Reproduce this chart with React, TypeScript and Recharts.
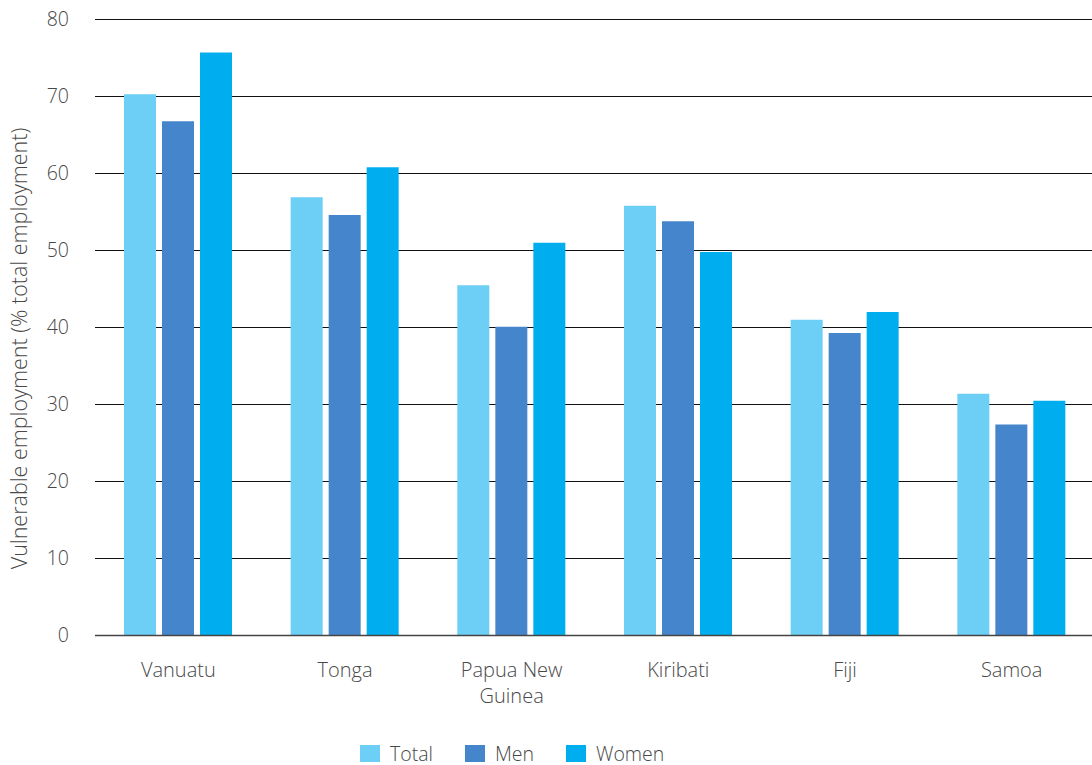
import { BarChart, Bar, XAxis, YAxis, CartesianGrid, Legend } from "recharts";

const countries = ["Vanuatu", "Tonga", "Papua New Guinea", "Kiribati", "Fiji", "Samoa"];
const total = [70.3, 56.9, 45.5, 55.8, 41.0, 31.4];
const men = [66.8, 54.6, 40.1, 53.8, 39.3, 27.4];
const women = [75.7, 60.8, 51.0, 49.8, 42.0, 30.5];
const yTicks = [0, 10, 20, 30, 40, 50, 60, 70, 80];

const series = [
    { key: "total", name: "Total", color: "#6dcff6" },
    { key: "men", name: "Men", color: "#4585cb" },
    { key: "women", name: "Women", color: "#00aeef" },
];

const data = countries.map((c, i) => ({
    country: c,
    total: total[i],
    men: men[i],
    women: women[i],
}));

const FONT = "'Open Sans', Roboto, sans-serif";
const TEXT = "#484848";

function CountryTick({ x, y, payload }: any) {
    // wrap long names onto two lines like the original
    const words = String(payload.value).split(" ");
    const lines: string[] = [];
    let cur = "";
    for (const w of words) {
        const next = cur ? cur + " " + w : w;
        if (next.length > 10 && cur) {
            lines.push(cur);
            cur = w;
        } else {
            cur = next;
        }
    }
    if (cur) lines.push(cur);
    return (
        <text x={x} y={y + 33} textAnchor="middle" fill={TEXT} fontSize={20} fontFamily={FONT} fontWeight={300}>
            {lines.map((l, i) => (
                <tspan key={i} x={x} dy={i === 0 ? 0 : 26}>{l}</tspan>
            ))}
        </text>
    );
}

function YTitle({ viewBox }: any) {
    const cy = viewBox.y + viewBox.height / 2 + 21;
    return (
        <text
            transform={`translate(27, ${cy}) rotate(-90)`}
            textAnchor="middle"
            fill={TEXT}
            fontSize={21.5}
            fontFamily={FONT}
            fontWeight={300}
        >
            Vulnerable employment (% total employment)
        </text>
    );
}

function SwatchLegend() {
    return (
        <div style={{ display: "flex", alignItems: "center", height: 40, fontFamily: FONT, fontWeight: 300, fontSize: 19.5, color: TEXT }}>
            {series.map((s) => (
                <div key={s.key} style={{ display: "flex", alignItems: "center", marginRight: 32 }}>
                    <span style={{ width: 20, height: 17, background: s.color, display: "inline-block", marginRight: 10 }} />
                    <span>{s.name}</span>
                </div>
            ))}
        </div>
    );
}

export default function App() {
    return (
        <div style={{ position: "absolute", left: 0, top: 0, width: 1092, height: 765, overflow: "hidden", background: "#fff" }}>
            <BarChart
                width={1100}
                height={765}
                data={data}
                margin={{ top: 19.5, right: 5, left: 0, bottom: 0 }}
                barSize={32}
                barGap={6}
            >
                <CartesianGrid vertical={false} stroke="#111" />
                <XAxis
                    dataKey="country"
                    height={89.5}
                    tickLine={false}
                    axisLine={{ stroke: "#444", strokeWidth: 1.5 }}
                    interval={0}
                    tick={<CountryTick />}
                />
                <YAxis
                    width={95}
                    domain={[0, 80]}
                    ticks={yTicks}
                    axisLine={false}
                    tickLine={false}
                    tickMargin={20}
                    tick={{ fill: TEXT, fontSize: 19.5, fontFamily: FONT, fontWeight: 300 }}
                    label={<YTitle />}
                />
                <Legend
                    verticalAlign="bottom"
                    content={<SwatchLegend />}
                    wrapperStyle={{ left: 360, top: 733, width: 400, height: 40 }}
                />
                {series.map((s) => (
                    <Bar key={s.key} dataKey={s.key} name={s.name} fill={s.color} isAnimationActive={false} />
                ))}
            </BarChart>
        </div>
    );
}
